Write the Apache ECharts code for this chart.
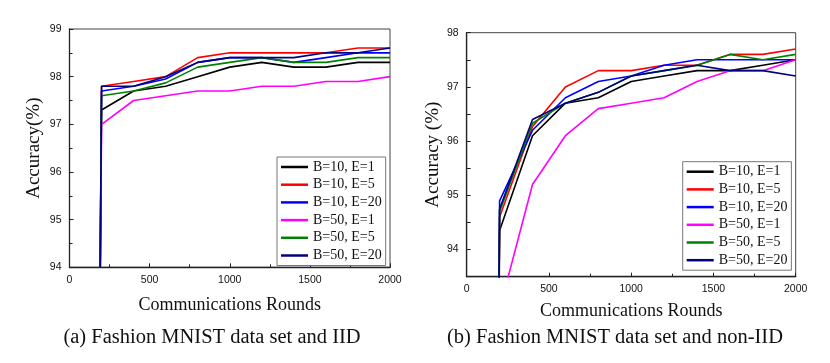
<!DOCTYPE html>
<html><head><meta charset="utf-8">
<script src="https://cdn.jsdelivr.net/npm/echarts@6/dist/echarts.min.js"></script>
<style>html,body{margin:0;padding:0;background:#fff}#c{width:830px;height:363px}</style>
</head><body><div id="c"></div>
<script>
// Communication rounds (first point: initial accuracy before training, below the visible axis)
const rounds = [0, 200, 400, 600, 800, 1000, 1200, 1400, 1600, 1800, 2000];
const seriesNames = ['B=10, E=1', 'B=10, E=5', 'B=10, E=20', 'B=50, E=1', 'B=50, E=5', 'B=50, E=20'];
const seriesColors = ['#000000', '#ff0000', '#0000ff', '#ff00ff', '#008000', '#000080'];

// (a) IID
const iidB10E1  = [10, 97.3, 97.7, 97.8, 98.0, 98.2, 98.3, 98.2, 98.2, 98.3, 98.3];
const iidB10E5  = [10, 97.8, 97.9, 98.0, 98.4, 98.5, 98.5, 98.5, 98.5, 98.6, 98.6];
const iidB10E20 = [10, 97.7, 97.8, 97.95, 98.3, 98.4, 98.4, 98.3, 98.4, 98.5, 98.5];
const iidB50E1  = [10, 97.0, 97.5, 97.6, 97.7, 97.7, 97.8, 97.8, 97.9, 97.9, 98.0];
const iidB50E5  = [10, 97.6, 97.7, 97.87, 98.2, 98.3, 98.4, 98.3, 98.3, 98.4, 98.4];
const iidB50E20 = [10, 97.8, 97.8, 98.0, 98.3, 98.4, 98.4, 98.4, 98.5, 98.5, 98.6];

// (b) non-IID
const nonB10E1  = [10, 94.35, 96.1, 96.7, 96.8, 97.1, 97.2, 97.3, 97.3, 97.4, 97.5];
const nonB10E5  = [10, 94.6, 96.27, 97.0, 97.3, 97.3, 97.4, 97.4, 97.6, 97.6, 97.7];
const nonB10E20 = [10, 94.9, 96.2, 96.8, 97.1, 97.2, 97.4, 97.5, 97.5, 97.5, 97.5];
const nonB50E1  = [10, 92.9, 95.2, 96.1, 96.6, 96.7, 96.8, 97.1, 97.3, 97.3, 97.5];
const nonB50E5  = [10, 94.7, 96.33, 96.7, 96.9, 97.2, 97.3, 97.4, 97.6, 97.5, 97.6];
const nonB50E20 = [10, 94.75, 96.4, 96.7, 96.9, 97.2, 97.3, 97.4, 97.3, 97.3, 97.2];

const xTicks = [0, 500, 1000, 1500, 2000];
const yTicksA = [94, 95, 96, 97, 98, 99];
const yTicksB = [94, 95, 96, 97, 98];

const captionA = '(a) Fashion MNIST data set and IID';
const captionB = '(b) Fashion MNIST data set and non-IID';

const iidData = [iidB10E1, iidB10E5, iidB10E20, iidB50E1, iidB50E5, iidB50E20];
const nonData = [nonB10E1, nonB10E5, nonB10E20, nonB50E1, nonB50E5, nonB50E20];

const chart = echarts.init(document.getElementById('c'), null, {renderer: 'canvas'});
const serif = '"Liberation Serif", "Times New Roman", serif';
const sans = '"Liberation Sans", Arial, sans-serif';

function xAxis(gi, nameGap) {
  return {
    type: 'value', gridIndex: gi, min: xTicks[0], max: xTicks[xTicks.length - 1], interval: 500,
    name: 'Communications Rounds', nameLocation: 'middle', nameGap: nameGap,
    nameTextStyle: {fontFamily: serif, fontSize: 18, color: '#111'},
    axisLine: {lineStyle: {color: '#222', width: 1.3}},
    axisTick: {inside: true, length: 4, lineStyle: {color: '#222'}},
    minorTick: {show: true, splitNumber: 2, length: 3, lineStyle: {color: '#222'}},
    axisLabel: {fontFamily: sans, fontSize: 10.5, color: '#111', margin: 7, formatter: v => String(v)},
    splitLine: {show: false}
  };
}
function yAxis(gi, min, max, interval, name, nameGap, ticks) {
  return {
    type: 'value', gridIndex: gi, min: min, max: max, interval: interval,
    name: name, nameLocation: 'middle', nameGap: nameGap, nameRotate: 90,
    nameTextStyle: {fontFamily: serif, fontSize: 19, color: '#111'},
    axisLine: {show: true, lineStyle: {color: '#222', width: 1.3}},
    axisTick: {inside: true, length: 4, lineStyle: {color: '#222'}},
    minorTick: {show: interval === 1, splitNumber: 2, length: 3, lineStyle: {color: '#222'}},
    axisLabel: {fontFamily: sans, fontSize: 10.5, color: '#111', margin: 8,
      formatter: v => (ticks.indexOf(Math.round(v * 100) / 100) >= 0 ? String(Math.round(v)) : '')},
    splitLine: {show: false}
  };
}

const series = [];
[iidData, nonData].forEach((set, gi) => {
  set.forEach((vals, i) => {
    series.push({
      type: 'line', name: seriesNames[i], xAxisIndex: gi, yAxisIndex: gi,
      data: rounds.map((r, k) => [r, vals[k]]),
      symbol: 'none', clip: true, animation: false,
      lineStyle: {color: seriesColors[i], width: 1.6},
      itemStyle: {color: seriesColors[i]}
    });
  });
});

function legend(left, top) {
  return {
    orient: 'vertical', left: left, top: top, data: seriesNames.map(n => ({name: n, icon: 'rect'})),
    itemWidth: 27, itemHeight: 2.5, itemGap: 3.7, padding: [3, 4, 3, 4],
    borderColor: '#777', borderWidth: 1, backgroundColor: '#fff',
    textStyle: {fontFamily: serif, fontSize: 14, color: '#111', lineHeight: 14},
    selectedMode: false
  };
}

chart.setOption({
  animation: false,
  grid: [
    {left: 69.5, right: 440, top: 29, bottom: 95.7, show: true, borderColor: '#444', borderWidth: 1},
    {left: 466.7, right: 34.3, top: 32.7, bottom: 86.3, show: true, borderColor: '#444', borderWidth: 1}
  ],
  xAxis: [xAxis(0, 29), xAxis(1, 26)],
  yAxis: [yAxis(0, 94, 99, 1, 'Accuracy(%)', 26, yTicksA), yAxis(1, 93.5, 98, 0.5, 'Accuracy (%)', 24, yTicksB)],
  legend: [legend(277, 157), legend(682.7, 161.7)],
  series: series,
  graphic: [
    {type: 'text', x: 212, y: 327, style: {text: captionA, font: '20.5px ' + serif, fill: '#111', align: 'center'}},
    {type: 'text', x: 615, y: 327, style: {text: captionB, font: '20.5px ' + serif, fill: '#111', align: 'center'}}
  ]
});
</script></body></html>
